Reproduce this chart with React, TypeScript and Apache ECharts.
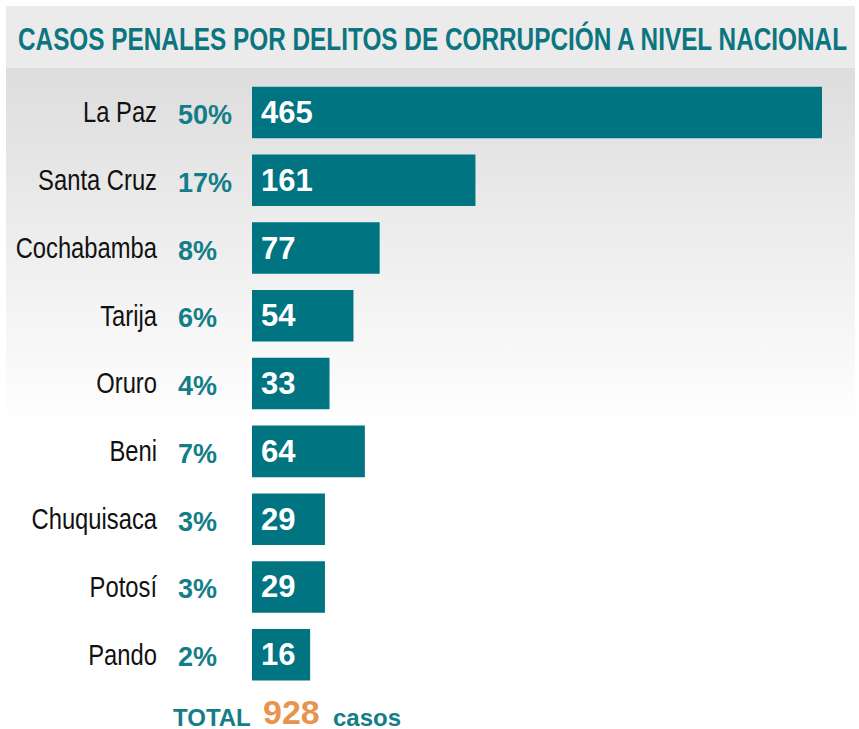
import React, { useEffect, useRef } from "react";
import * as echarts from "echarts";

const TITLE = "CASOS PENALES POR DELITOS DE CORRUPCIÓN A NIVEL NACIONAL";
const DEPARTMENTS = ["La Paz", "Santa Cruz", "Cochabamba", "Tarija", "Oruro", "Beni", "Chuquisaca", "Potosí", "Pando"];
const CASES = [465, 161, 77, 54, 33, 64, 29, 29, 16];
const PERCENTS = ["50%", "17%", "8%", "6%", "4%", "7%", "3%", "3%", "2%"];

const TEAL = "#007481";
const TEAL_TEXT = "#137d88";
const ORANGE = "#e8944f";
const AXIS_MIN = -35;
const AXIS_MAX = 465;
const FONT = "'Liberation Sans', Arial, sans-serif";

export default function App() {
  const ref = useRef<HTMLDivElement>(null);
  useEffect(() => {
    document.body.style.margin = "0";
    const chart = echarts.init(ref.current!, null, { renderer: "svg" });
    const total = CASES.reduce((a, b) => a + b, 0);
    chart.setOption({
      animation: false,
      backgroundColor: "#ffffff",
      graphic: [
        {
          type: "rect",
          z: -10,
          shape: { x: 6, y: 6, width: 849, height: 62 },
          style: { fill: "#ebebeb" },
        },
        {
          type: "rect",
          z: -10,
          shape: { x: 6, y: 68, width: 849, height: 360 },
          style: {
            fill: {
              type: "linear",
              x: 0,
              y: 0,
              x2: 0,
              y2: 1,
              colorStops: [
                { offset: 0, color: "#dddddd" },
                { offset: 1, color: "#ffffff" },
              ],
            },
          },
        },
        {
          type: "text",
          x: 432.5,
          y: 39,
          scaleX: 0.761,
          style: {
            text: TITLE,
            fill: "#0b7580",
            font: `bold 32px ${FONT}`,
            align: "center",
            verticalAlign: "middle",
          },
        },
        {
          type: "text",
          x: 173,
          y: 717,
          style: {
            text: "TOTAL",
            fill: TEAL_TEXT,
            font: `bold 24px ${FONT}`,
            verticalAlign: "middle",
          },
        },
        {
          type: "text",
          x: 263,
          y: 711.5,
          style: {
            text: String(total),
            fill: ORANGE,
            font: `bold 34px ${FONT}`,
            verticalAlign: "middle",
          },
        },
        {
          type: "text",
          x: 333,
          y: 717,
          style: {
            text: "casos",
            fill: TEAL_TEXT,
            font: `bold 24px ${FONT}`,
            verticalAlign: "middle",
          },
        },
      ],
      grid: { left: 252, width: 570, top: 78.6, height: 610, outerBoundsMode: "none", containLabel: false },
      xAxis: {
        type: "value",
        min: AXIS_MIN,
        max: AXIS_MAX,
        show: false,
      },
      yAxis: {
        type: "category",
        inverse: true,
        data: DEPARTMENTS,
        show: false,
      },
      series: [
        {
          type: "custom",
          data: CASES.map((v, i) => [v, i]),
          encode: { x: 0, y: 1 },
          renderItem: (params: any, api: any) => {
            const v = api.value(0);
            const idx = api.value(1);
            const start = api.coord([AXIS_MIN, idx]);
            const end = api.coord([v, idx]);
            const h = api.size([0, 1])[1] * 0.76;
            return {
              type: "group",
              children: [
                {
                  type: "rect",
                  shape: { x: start[0], y: start[1] - h / 2, width: end[0] - start[0], height: h },
                  style: { fill: TEAL },
                },
                {
                  type: "text",
                  x: start[0] + 9,
                  y: start[1],
                  style: {
                    text: String(v),
                    fill: "#ffffff",
                    font: `bold 31px ${FONT}`,
                    verticalAlign: "middle",
                  },
                },
                {
                  type: "text",
                  x: start[0] - 95,
                  y: start[1],
                  scaleX: 0.82,
                  style: {
                    text: DEPARTMENTS[idx],
                    fill: "#111111",
                    font: `29px ${FONT}`,
                    align: "right",
                    verticalAlign: "middle",
                  },
                },
                {
                  type: "text",
                  x: start[0] - 74,
                  y: start[1] + 2.5,
                  style: {
                    text: PERCENTS[idx],
                    fill: TEAL_TEXT,
                    font: `bold 27px ${FONT}`,
                    align: "left",
                    verticalAlign: "middle",
                  },
                },
              ],
            };
          },
        },
      ],
    });
    return () => chart.dispose();
  }, []);
  return <div ref={ref} style={{ width: 859, height: 729 }} />;
}
